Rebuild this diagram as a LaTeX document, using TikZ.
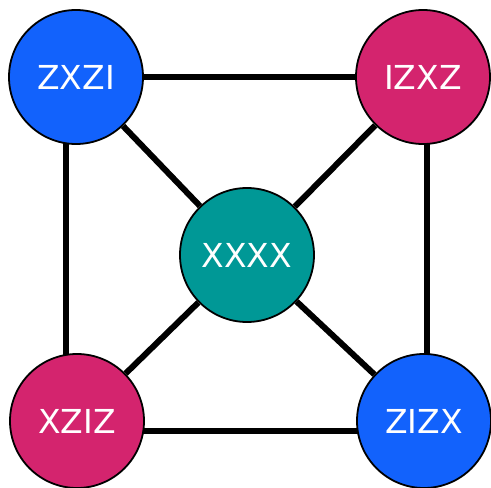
\documentclass[tikz,border=0pt]{standalone}
\usepackage{fontspec}
\setsansfont{DejaVu Sans}
\definecolor{colblue}{RGB}{18,98,252}
\definecolor{colmagenta}{RGB}{212,36,110}
\definecolor{colteal}{RGB}{0,152,150}
\usetikzlibrary{
	backgrounds
}
\tikzset{
	graphedge/.style={line width=6pt},
	graphnode/.style={circle, draw, line width=1.8pt, minimum size=134pt, inner sep=0pt,
		text=white, font=\sffamily\fontsize{33}{33}\selectfont}
}

\begin{document}
\begin{tikzpicture}[x=1pt, y=1pt]
	\useasboundingbox (0,0) rectangle (491,488);

	\node[graphnode, fill=colblue] (zxzi) at (76,411) {ZXZI};
	\node[graphnode, fill=colmagenta] (izxz) at (423,411) {IZXZ};
	\node[graphnode, fill=colteal] (xxxx) at (247,233) {XXXX};
	\node[graphnode, fill=colmagenta] (xziz) at (77,67) {XZIZ};
	\node[graphnode, fill=colblue] (zizx) at (424,67) {ZIZX};

	\begin{scope}[on background layer]
		\path[graphedge]
			(zxzi) edge (izxz)
				edge (xxxx)
			(izxz) edge (xxxx)
			(xziz) edge (xxxx)
			(zizx) edge (xxxx)
		;

		\draw[graphedge] ([xshift=-10pt]zxzi.center) -- ([xshift=-11pt]xziz.center);
		\draw[graphedge] ([xshift=4pt]izxz.center) -- ([xshift=3pt]zizx.center);
		\draw[graphedge] ([yshift=-10pt]xziz.center) -- ([yshift=-10pt]zizx.center);
	\end{scope}
\end{tikzpicture}
\end{document}
